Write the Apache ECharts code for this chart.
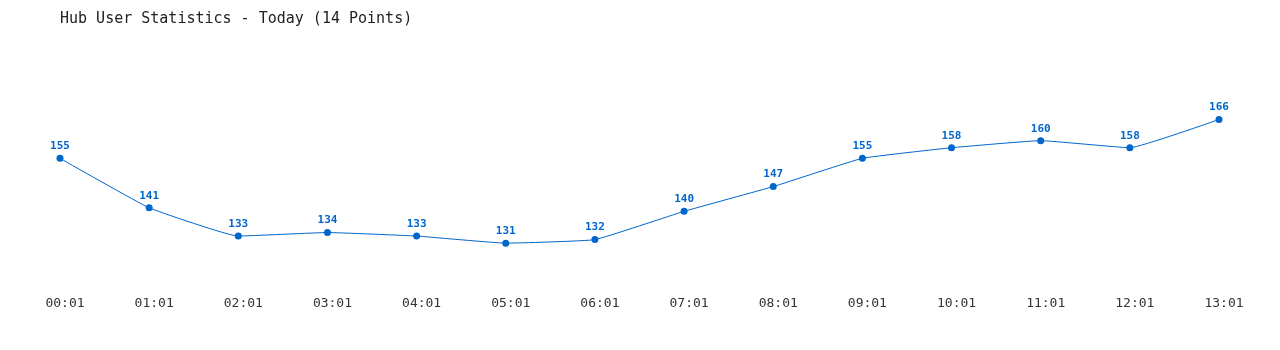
<!DOCTYPE html>
<html><head><meta charset="utf-8">
<script src="https://cdn.jsdelivr.net/npm/echarts@6/dist/echarts.min.js"></script>
<style>html,body{margin:0;padding:0;background:#fff}#c{width:1280px;height:350px}</style>
</head><body><div id="c"></div>
<script>
const categories = ["00:01","01:01","02:01","03:01","04:01","05:01","06:01","07:01","08:01","09:01","10:01","11:01","12:01","13:01"];
const users = [155,141,133,134,133,131,132,140,147,155,158,160,158,166];
const titleText = "Hub User Statistics - Today (14 Points)";
const chart = echarts.init(document.getElementById('c'));
chart.setOption({
  animation:false,
  backgroundColor:'#fff',
  title:{text:titleText,left:55,top:7,textStyle:{fontFamily:'DejaVu Sans Mono',fontSize:15,fontWeight:'normal',color:'#222'}},
  grid:{left:60,right:61,top:70,bottom:68},
  xAxis:{type:'category',data:categories,boundaryGap:false,
    axisLine:{show:false},axisTick:{show:false},splitLine:{show:false},
    axisLabel:{margin:15,padding:[0,0,0,10],color:'#333',fontFamily:'DejaVu Sans Mono',fontSize:13}},
  yAxis:{type:'value',min:120,max:180,show:false,splitLine:{show:false}},
  series:[{type:'line',data:users,smooth:0.1,symbol:'circle',symbolSize:7,
    lineStyle:{color:'#0066cc',width:1},itemStyle:{color:'#0066cc'},
    label:{show:true,position:'top',distance:3,color:'#0066cc',fontFamily:'DejaVu Sans Mono',fontSize:11,fontWeight:'bold'}}]
});
</script></body></html>
